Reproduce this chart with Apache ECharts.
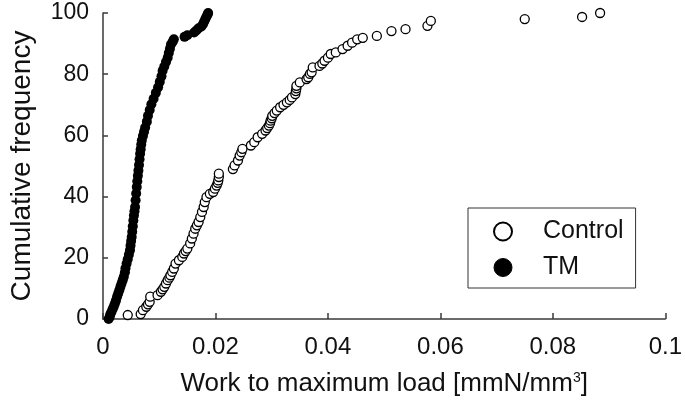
<!DOCTYPE html>
<html>
<head>
<meta charset="utf-8">
<script src="https://cdn.jsdelivr.net/npm/echarts@6/dist/echarts.min.js"></script>
<style>html,body{margin:0;padding:0;background:#fff}#c{width:685px;height:405px}</style>
</head>
<body>
<div id="c"></div>
<script>
var seriesNames = ['Control', 'TM'];
var xTickLabels = ['0', '0.02', '0.04', '0.06', '0.08', '0.1'];
var yTickLabels = ['0', '20', '40', '60', '80', '100'];
var xTitle = 'Work to maximum load [mmN/mm{sup|3}]';
var yTitle = 'Cumulative frequency';

var controlData = [
  [0.0044,1.3],[0.0067,1.6],[0.0071,2.9],[0.0077,4.0],[0.0080,4.8],[0.0083,5.6],[0.0084,7.3],
  [0.0097,7.8],[0.0103,8.9],[0.0106,9.7],[0.0109,10.5],[0.0112,11.6],[0.0115,12.7],[0.0118,13.5],
  [0.0120,14.3],[0.0123,15.4],[0.0126,16.5],[0.0129,18.1],[0.0135,19.2],[0.0141,20.3],[0.0144,21.4],
  [0.0147,22.2],[0.0150,23.0],[0.0155,24.7],[0.0158,26.3],[0.0161,27.9],[0.0164,29.5],[0.0167,30.6],
  [0.0170,31.7],[0.0173,33.3],[0.0176,35.0],[0.0179,36.6],[0.0181,38.2],[0.0184,39.8],[0.0190,40.9],
  [0.0196,41.5],[0.0199,42.6],[0.0202,43.6],[0.0204,44.5],[0.0205,45.3],[0.0206,46.4],[0.0206,47.5],
  [0.0231,49.0],[0.0234,50.2],[0.0240,51.8],[0.0243,53.4],[0.0246,54.5],[0.0248,55.6],[0.0263,56.7],
  [0.0269,57.8],[0.0275,59.4],[0.0283,60.5],[0.0289,61.6],[0.0292,62.4],[0.0295,63.2],[0.0297,64.0],
  [0.0298,64.8],[0.0300,65.6],[0.0301,66.4],[0.0305,67.3],[0.0309,68.1],[0.0315,69.2],[0.0321,70.0],
  [0.0327,70.8],[0.0332,71.6],[0.0336,72.4],[0.0342,73.5],[0.0343,74.5],[0.0344,75.4],[0.0344,76.2],
  [0.0350,77.3],[0.0362,78.4],[0.0365,79.0],[0.0368,80.1],[0.0371,80.6],[0.0373,82.2],[0.0385,82.7],
  [0.0390,83.5],[0.0394,84.4],[0.0400,85.4],[0.0405,86.6],[0.0414,87.1],[0.0426,88.2],[0.0435,89.3],
  [0.0443,90.3],[0.0452,91.4],[0.0462,91.9],[0.0487,92.5],[0.0513,94.1],[0.0538,94.7],[0.0577,95.8],
  [0.0583,97.4],[0.0750,98.0],[0.0852,98.7],[0.0884,100]
];

var tmData = [
  [0.0010,0],[0.0012,0.7],[0.0013,1.5],[0.0015,2.3],[0.0017,3.2],[0.0019,4.0],[0.0021,5.0],[0.0023,6.0],
  [0.0025,7.3],[0.0027,8.3],[0.0029,9.4],[0.0031,10.5],[0.0033,11.6],[0.0035,12.7],[0.0037,13.8],
  [0.0039,15.3],[0.0040,16.6],[0.0042,18.1],[0.0044,19.5],[0.0046,21.0],[0.0048,22.5],[0.0049,24.0],
  [0.0050,25.5],[0.0051,26.8],[0.0052,28.5],[0.0053,30.3],[0.0054,32.2],[0.0055,33.8],[0.0056,35.2],
  [0.0057,36.6],[0.0058,38.8],[0.0059,41.0],[0.0060,43.1],[0.0061,45.0],[0.0062,46.8],[0.0063,48.5],
  [0.0064,50.3],[0.0065,52.2],[0.0066,54.0],[0.0067,55.5],[0.0068,57.0],[0.0069,58.3],[0.0071,59.8],
  [0.0073,61.2],[0.0075,62.6],[0.0078,64.5],[0.0080,66.4],[0.0083,68.3],[0.0086,70.2],[0.0090,72.0],
  [0.0094,73.9],[0.0098,75.7],[0.0101,77.5],[0.0104,79.3],[0.0106,81.1],[0.0109,82.5],[0.0112,84.0],
  [0.0115,85.4],[0.0117,86.9],[0.0119,88.3],[0.0121,89.8],[0.0124,90.6],[0.0126,91.4],[0.0145,92.2],
  [0.0150,92.7],[0.0162,93.6],[0.0166,94.3],[0.0170,95.0],[0.0175,95.6],[0.0178,96.4],[0.0180,97.2],
  [0.0182,98.0],[0.0184,98.8],[0.0186,99.5],[0.0187,100]
];

var FONT = 'Liberation Sans, Arial, sans-serif';
var AXIS_COLOR = '#3a3a3a';
var TEXT_COLOR = '#111';

var chart = echarts.init(document.getElementById('c'), null, {renderer: 'canvas'});
chart.setOption({
  animation: false,
  backgroundColor: '#fff',
  grid: {left: 96, right: 16, top: 13, bottom: 86, containLabel: false},
  legend: {
    orient: 'vertical',
    left: 468,
    top: 208,
    padding: [11, 12, 8, 25],
    borderColor: '#333',
    borderWidth: 1,
    itemWidth: 18,
    itemHeight: 18,
    itemGap: 11,
    formatter: function (name) { return '{s|}' + name; },
    textStyle: {fontFamily: FONT, fontSize: 25, color: TEXT_COLOR, lineHeight: 25,
      rich: {s: {width: 26}}},
    data: [
      {name: seriesNames[0], icon: 'circle', itemStyle: {color: '#fff', borderColor: '#000', borderWidth: 2}},
      {name: seriesNames[1], icon: 'circle', itemStyle: {color: '#000', borderColor: '#000', borderWidth: 1}}
    ]
  },
  xAxis: {
    type: 'value',
    min: 0, max: 0.1, interval: 0.02,
    name: xTitle,
    nameLocation: 'middle',
    nameGap: 52,
    nameTextStyle: {fontFamily: FONT, fontSize: 26, color: TEXT_COLOR,
      rich: {sup: {fontFamily: FONT, fontSize: 14, color: TEXT_COLOR, verticalAlign: 'top', padding: [0, 0, 12, 0]}}},
    axisLine: {show: true, lineStyle: {color: AXIS_COLOR, width: 1.5}},
    axisTick: {show: true, inside: true, length: 6, lineStyle: {color: AXIS_COLOR, width: 1.5}},
    splitLine: {show: false},
    axisLabel: {
      margin: 16, fontFamily: FONT, fontSize: 24, color: TEXT_COLOR,
      formatter: function (v) { return xTickLabels[Math.round(v / 0.02)]; }
    }
  },
  yAxis: {
    type: 'value',
    min: 0, max: 100, interval: 20,
    name: yTitle,
    nameLocation: 'middle',
    nameGap: 67,
    nameTextStyle: {fontFamily: FONT, fontSize: 28, color: TEXT_COLOR},
    axisLine: {show: true, lineStyle: {color: AXIS_COLOR, width: 1.5}},
    axisTick: {show: true, inside: true, length: 5, lineStyle: {color: AXIS_COLOR, width: 1.5}},
    splitLine: {show: false},
    axisLabel: {
      margin: 14, fontFamily: FONT, fontSize: 23, color: TEXT_COLOR,
      formatter: function (v) { return yTickLabels[Math.round(v / 20)]; }
    }
  },
  series: [
    {
      name: seriesNames[0], type: 'scatter', data: controlData, symbol: 'circle', symbolSize: 9,
      itemStyle: {color: '#fff', borderColor: '#000', borderWidth: 1.3, opacity: 1}, z: 2
    },
    {
      name: seriesNames[1], type: 'scatter', data: tmData, symbol: 'circle', symbolSize: 10,
      itemStyle: {color: '#000', borderColor: '#000', borderWidth: 0, opacity: 1}, z: 3
    }
  ]
});
</script>
</body>
</html>
